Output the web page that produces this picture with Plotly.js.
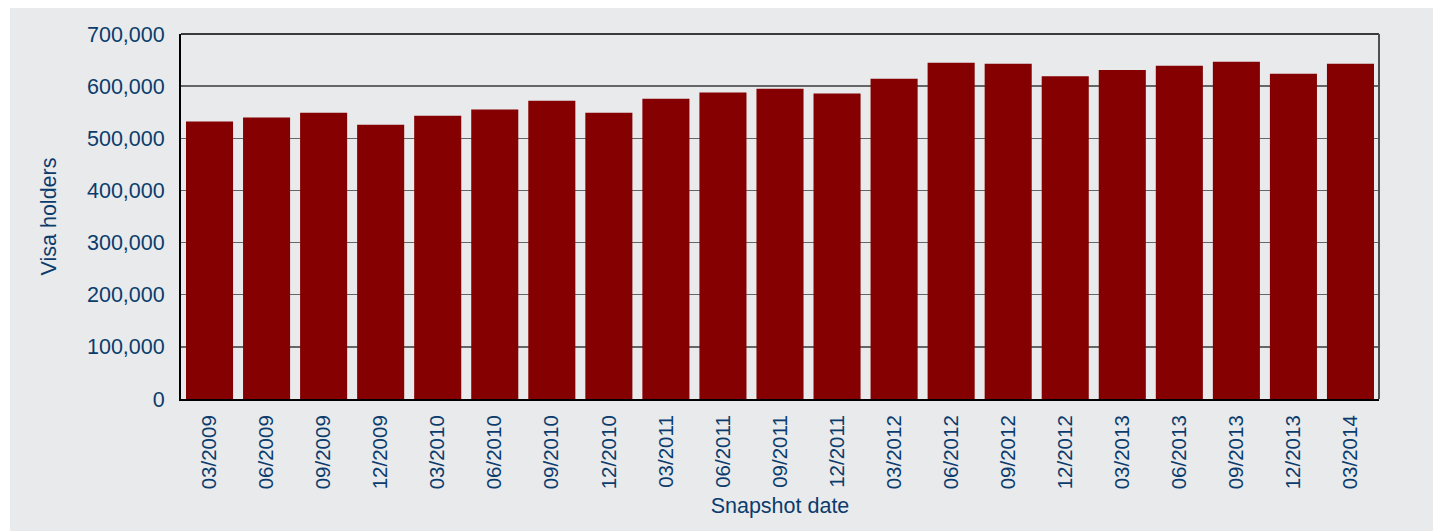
<!DOCTYPE html>
<html>
<head>
<meta charset="utf-8">
<script src="https://cdn.plot.ly/plotly-3.0.1.min.js"></script>
<style>
  html, body { margin: 0; padding: 0; background: #ffffff; }
  #chart { position: absolute; left: 10px; top: 8px; width: 1423px; height: 523px; }
</style>
</head>
<body>
<div id="chart"></div>
<script>
const snapshotDates = ["03/2009","06/2009","09/2009","12/2009","03/2010","06/2010","09/2010","12/2010",
  "03/2011","06/2011","09/2011","12/2011","03/2012","06/2012","09/2012","12/2012",
  "03/2013","06/2013","09/2013","12/2013","03/2014"];
const visaHolders = [532000, 540000, 549000, 526000, 543000, 555000, 572000, 549000,
  576000, 588000, 595000, 586000, 614000, 645000, 643000, 619000,
  631000, 639000, 647000, 624000, 643000];

const textColor = "#0b3c6c";
const fontFamily = "Liberation Sans, Arial, sans-serif";

const trace = {
  type: "bar",
  x: snapshotDates,
  y: visaHolders,
  marker: { color: "#850000", line: { width: 0 } },
  hoverinfo: "x+y"
};

const layout = {
  width: 1423,
  height: 523,
  margin: { l: 171, r: 54, t: 26, b: 132 },
  paper_bgcolor: "#e9eaec",
  plot_bgcolor: "#e9eaec",
  bargap: 0.175,
  showlegend: false,
  font: { family: fontFamily, color: textColor, size: 21 },
  xaxis: {
    type: "category",
    tickangle: -90,
    tickfont: { family: fontFamily, color: textColor, size: 20.5 },
    showgrid: false,
    showline: true,
    linecolor: "#000000",
    linewidth: 2,
    ticks: "",
    ticklabelstandoff: 6,
    title: { text: "Snapshot date", font: { family: fontFamily, color: textColor, size: 21.5 }, standoff: 10 },
    automargin: false
  },
  yaxis: {
    range: [0, 700000],
    dtick: 100000,
    tickformat: ",",
    tickfont: { family: fontFamily, color: textColor, size: 21.5 },
    showgrid: true,
    gridcolor: "#666666",
    gridwidth: 1.5,
    zeroline: false,
    showline: true,
    linecolor: "#000000",
    linewidth: 2,
    ticks: "",
    ticklabelstandoff: 10,
    title: { text: "Visa holders", font: { family: fontFamily, color: textColor, size: 21.5 }, standoff: 24 },
    automargin: false
  },
  shapes: [
    { type: "line", xref: "paper", yref: "paper", x0: 0, x1: 1, y0: 1, y1: 1, line: { color: "#3a3a3a", width: 2 } },
    { type: "line", xref: "paper", yref: "paper", x0: 1, x1: 1, y0: 0, y1: 1, line: { color: "#505050", width: 2 } }
  ]
};

Plotly.newPlot("chart", [trace], layout, { displayModeBar: false, staticPlot: true });
</script>
</body>
</html>
